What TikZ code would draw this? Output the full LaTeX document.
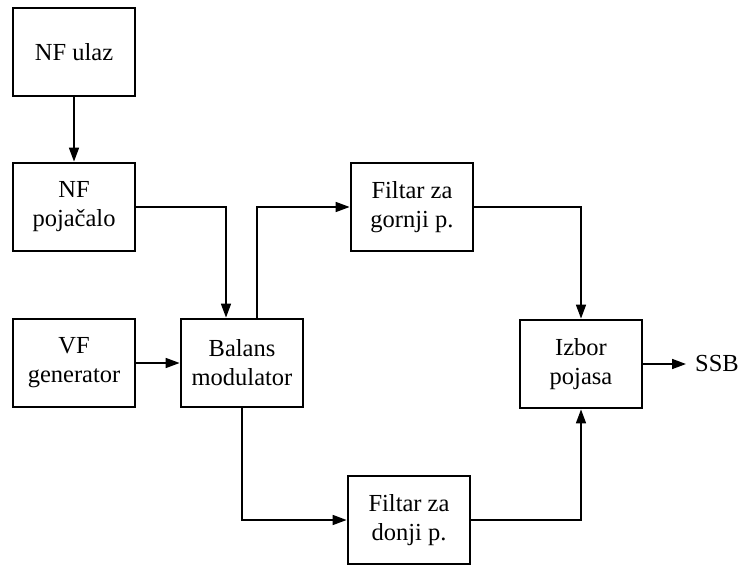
\documentclass[tikz,border=0pt]{standalone}
\usepackage{fontspec}
\setmainfont{Liberation Serif}
\usetikzlibrary{arrows.meta}
\begin{document}
\begin{tikzpicture}[x=1pt,y=-1pt,
  block/.style={draw, line width=2.8pt, minimum width=122pt, minimum height=88pt,
    inner sep=0pt, align=center, font=\fontsize{24.5}{29}\selectfont},
  wire/.style={line width=1.6pt},
  arr/.style={wire, -{Triangle[length=14pt,width=10pt]}}]
\useasboundingbox (0,0) rectangle (746,572);
% blocks
\node[block] (ulaz) at (74,52) {NF ulaz};
\node[block] (poj) at (74,207) {NF\\pojačalo};
\node[block] (vf) at (74,363) {VF\\generator};
\node[block] (bal) at (242,363) {Balans\\modulator};
\node[block] (fg) at (412,207) {Filtar za\\gornji p.};
\node[block] (fd) at (409,520) {Filtar za\\donji p.};
\node[block] (izb) at (581,364) {Izbor\\pojasa};
\node[font=\fontsize{24.5}{29}\selectfont, anchor=west, inner sep=0pt] (ssb) at (695,364) {SSB};
% connectors
\draw[arr] (ulaz) -- (poj);
\draw[arr] (poj.east) -| ([xshift=-16pt]bal.north);
\draw[arr] (vf) -- (bal);
\draw[arr] ([xshift=15pt]bal.north) |- (fg.west);
\draw[arr] (bal.south) |- (fd.west);
\draw[arr] (fg.east) -| (izb.north);
\draw[arr] (fd.east) -| (izb.south);
\draw[arr] (izb.east) -- ([xshift=-9pt]izb.east -| ssb.west);
\end{tikzpicture}
\end{document}
